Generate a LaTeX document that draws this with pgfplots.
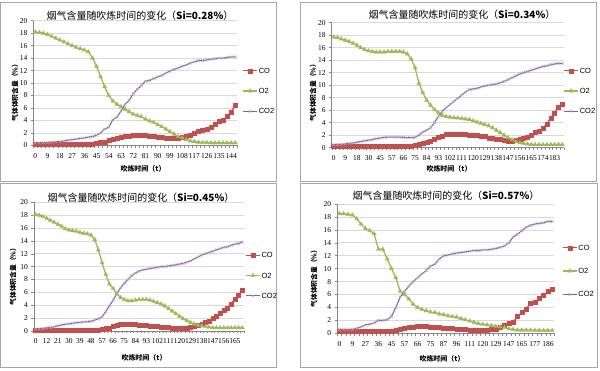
\documentclass[border=0pt]{standalone}
\usepackage{pgfplots}
\pgfplotsset{compat=1.18}
\usepackage{pgfplotstable}
\usepackage{fontspec}
\setmainfont{Liberation Serif}
\newfontfamily\cjk{Noto Sans CJK SC}
\newfontfamily\sansf{Liberation Sans}
\definecolor{coC}{HTML}{C0504D}
\definecolor{o2C}{HTML}{9BBB59}
\definecolor{co2C}{HTML}{8064A2}
\definecolor{co2M}{HTML}{B3A2C7}
\definecolor{gridC}{HTML}{D9D9D9}
\definecolor{axC}{HTML}{868686}
\definecolor{frameC}{HTML}{A6A6A6}

\pgfplotstableread{
i CO O2 CO2
0 0.2 18.2 0.4
1 0.2 18.1 0.4
2 0.2 18.0 0.4
3 0.2 17.8 0.45
4 0.2 17.5 0.5
5 0.2 17.2 0.55
6 0.2 16.9 0.6
7 0.2 16.6 0.7
8 0.2 16.3 0.8
9 0.2 16.0 0.9
10 0.2 15.7 1.0
11 0.2 15.5 1.1
12 0.2 15.3 1.2
13 0.2 15.0 1.3
14 0.2 14.0 1.4
15 0.3 12.7 1.6
16 0.45 11.0 2.0
17 0.55 9.4 2.6
18 0.75 8.0 2.9
19 0.95 7.1 4.1
20 1.1 6.6 4.5
21 1.25 6.2 5.5
22 1.4 5.8 6.6
23 1.5 5.4 7.2
24 1.55 5.0 8.3
25 1.6 4.8 9.0
26 1.6 4.6 9.6
27 1.55 4.2 10.3
28 1.45 3.9 10.4
29 1.4 3.7 10.7
30 1.3 3.3 11.0
31 1.25 3.0 11.2
32 1.2 2.6 11.6
33 1.15 2.2 11.9
34 1.15 1.8 12.2
35 1.2 1.4 12.4
36 1.3 1.2 12.7
37 1.4 0.9 12.9
38 1.6 0.7 13.2
39 1.9 0.6 13.4
40 2.2 0.5 13.6
41 2.4 0.45 13.6
42 2.6 0.45 13.7
43 2.9 0.4 13.8
44 3.4 0.4 13.9
45 3.8 0.4 14.0
46 4.0 0.4 14.0
47 4.7 0.4 14.1
48 5.4 0.4 14.2
49 6.4 0.4 14.2
}\tabA

\pgfplotstableread{
i CO O2 CO2
0 0.3 17.7 0.5
1 0.3 17.6 0.5
2 0.3 17.4 0.55
3 0.3 17.2 0.6
4 0.3 17.0 0.7
5 0.3 16.7 0.75
6 0.3 16.4 0.85
7 0.3 16.0 1.0
8 0.3 15.7 1.1
9 0.3 15.5 1.2
10 0.3 15.4 1.3
11 0.3 15.3 1.45
12 0.3 15.3 1.55
13 0.3 15.3 1.65
14 0.3 15.4 1.7
15 0.3 15.4 1.7
16 0.3 15.4 1.7
17 0.3 15.4 1.7
18 0.3 15.3 1.65
19 0.3 15.0 1.6
20 0.3 14.2 1.6
21 0.35 12.8 1.65
22 0.5 10.3 2.0
23 0.8 8.8 2.5
24 0.9 7.6 2.8
25 1.1 6.8 3.2
26 1.4 6.1 4.0
27 1.7 5.6 5.0
28 1.9 5.2 5.8
29 2.1 5.0 6.4
30 2.2 4.9 6.9
31 2.2 4.8 7.4
32 2.2 4.75 7.9
33 2.1 4.7 8.4
34 2.1 4.6 8.9
35 2.0 4.5 9.3
36 2.0 4.3 9.4
37 2.0 4.1 9.5
38 1.9 3.9 9.7
39 1.8 3.7 9.9
40 1.6 3.5 10.0
41 1.5 3.2 10.1
42 1.4 2.8 10.2
43 1.3 2.4 10.4
44 1.2 2.0 10.6
45 1.1 1.6 10.9
46 1.1 1.3 11.2
47 1.2 1.0 11.5
48 1.3 0.8 11.8
49 1.6 0.7 12.0
50 1.7 0.6 12.2
51 2.0 0.5 12.4
52 2.5 0.5 12.6
53 2.7 0.5 12.8
54 3.2 0.5 13.0
55 3.8 0.5 13.1
56 4.8 0.5 13.3
57 5.6 0.5 13.4
58 6.5 0.5 13.5
59 7.0 0.5 13.5
}\tabB

\pgfplotstableread{
i CO O2 CO2
0 0.2 18.1 0.3
1 0.2 18.0 0.35
2 0.2 17.8 0.4
3 0.2 17.5 0.5
4 0.2 17.2 0.55
5 0.2 16.9 0.65
6 0.2 16.6 0.8
7 0.2 16.3 0.95
8 0.2 15.9 1.05
9 0.2 15.7 1.1
10 0.2 15.6 1.2
11 0.2 15.5 1.3
12 0.2 15.3 1.35
13 0.2 15.2 1.4
14 0.2 15.1 1.45
15 0.2 14.9 1.5
16 0.2 14.2 1.7
17 0.2 12.6 1.9
18 0.3 10.6 2.2
19 0.4 8.8 3.0
20 0.5 7.3 3.9
21 0.7 6.6 4.8
22 0.85 5.8 5.8
23 1.0 5.2 6.7
24 1.05 4.9 7.4
25 1.1 4.7 8.0
26 1.05 4.7 8.6
27 1.0 4.8 9.0
28 0.95 4.9 9.3
29 0.9 4.9 9.5
30 0.85 4.9 9.6
31 0.8 4.8 9.7
32 0.75 4.6 9.8
33 0.7 4.4 9.9
34 0.65 4.2 10.0
35 0.6 3.9 10.0
36 0.55 3.5 10.1
37 0.5 3.1 10.2
38 0.5 2.7 10.3
39 0.5 2.3 10.4
40 0.5 1.9 10.5
41 0.5 1.6 10.7
42 0.6 1.3 10.9
43 0.7 1.1 11.2
44 0.9 0.9 11.5
45 1.1 0.8 11.8
46 1.4 0.7 12.0
47 1.6 0.6 12.2
48 2.0 0.5 12.4
49 2.3 0.5 12.6
50 2.7 0.5 12.8
51 3.3 0.5 13.0
52 3.6 0.5 13.1
53 4.2 0.5 13.3
54 5.0 0.5 13.5
55 5.6 0.5 13.6
56 6.3 0.5 13.8
}\tabC

\pgfplotstableread{
i CO O2 CO2
0 0.3 18.5 0.6
1 0.3 18.5 0.6
2 0.3 18.4 0.6
3 0.3 18.3 0.6
4 0.3 17.7 0.75
5 0.3 16.9 1.0
6 0.3 16.2 1.3
7 0.3 15.9 1.4
8 0.3 15.4 1.6
9 0.3 13.0 2.0
10 0.3 13.0 2.0
11 0.35 11.5 2.1
12 0.4 10.0 2.6
13 0.5 8.6 4.0
14 0.65 6.5 5.6
15 0.8 6.0 6.5
16 0.9 5.3 7.3
17 1.0 4.5 8.0
18 1.1 4.0 8.6
19 1.1 3.7 9.2
20 1.05 3.5 9.7
21 1.0 3.3 10.4
22 0.95 3.2 10.7
23 0.9 3.0 11.5
24 0.85 2.9 12.0
25 0.8 2.7 12.1
26 0.75 2.6 12.3
27 0.7 2.5 12.4
28 0.65 2.3 12.5
29 0.6 2.1 12.6
30 0.55 1.9 12.7
31 0.5 1.7 12.8
32 0.5 1.5 12.8
33 0.5 1.4 12.9
34 0.55 1.3 12.9
35 0.6 1.2 13.0
36 0.7 1.1 13.1
37 0.9 1.0 13.3
38 1.2 0.9 13.5
39 1.6 0.7 14.0
40 1.8 0.6 14.9
41 2.6 0.5 15.3
42 3.2 0.5 15.9
43 3.8 0.5 16.4
44 4.6 0.5 16.7
45 4.8 0.45 16.9
46 5.4 0.45 17.0
47 5.9 0.45 17.1
48 6.5 0.45 17.3
49 6.8 0.45 17.3
}\tabD

\pgfplotsset{
  panel/.style={
    scale only axis,
    ymin=0, ymax=20, ytick={0,2,...,20},
    ymajorgrids, grid style={draw=gridC, line width=0.6bp},
    axis x line*=bottom, axis y line*=left,
    axis line style={draw=axC, line width=0.6bp, -},
    tick align=outside,
    major tick length=2.5bp, minor tick length=2.5bp,
    ytick style={draw=axC, line width=0.5bp},
    xtick style={draw=none},
    minor x tick style={draw=axC, line width=0.4bp},
    ticklabel style={font=\fontsize{7.5}{8}\selectfont},
    xticklabel style={yshift=-2bp},
    /pgf/number format/assume math mode=true,
    legend cell align=left,
    legend style={draw=none, fill=none, anchor=west, inner sep=0pt,
      font=\sansf\fontsize{7.5}{8}\selectfont, row sep=13bp,
      nodes={inner sep=1pt, text height=5.3bp, text depth=0pt}},
    legend image code/.code={\draw[mark repeat=2,mark phase=2,##1] plot coordinates {(0bp,0bp) (7bp,0bp) (14bp,0bp)};},
  },
  coS/.style={color=coC, line width=1.3bp, mark=square*, mark size=2bp, mark options={fill=coC, draw=coC, line width=0.3bp}},
  o2S/.style={color=o2C, line width=1.3bp, mark=triangle*, mark size=2.4bp, mark options={fill=o2C, draw=o2C, line width=0.3bp}},
  co2S/.style={color=co2C, line width=1.1bp, mark=x, mark size=1.9bp, mark options={draw=co2M, line width=0.5bp}},
}

\begin{document}
\begin{tikzpicture}
\useasboundingbox (0bp,0bp) rectangle (600bp,371bp);
% panel frames
\draw[frameC, line width=0.8bp] (0.5bp,190bp) rectangle (276bp,368.5bp);
\draw[frameC, line width=0.8bp] (300.5bp,190bp) rectangle (596.5bp,368.5bp);
\draw[frameC, line width=0.8bp] (0.5bp,4bp) rectangle (276bp,188bp);
\draw[frameC, line width=0.8bp] (300.5bp,4bp) rectangle (597.5bp,188bp);

% Panel 1
\begin{axis}[panel, at={(33.3bp,225.7bp)}, anchor=south west, width=204bp, height=124.6bp,
  xmin=-0.5, xmax=49.5, xtick={0,3,...,48},
  xticklabels={0,9,18,27,36,45,54,63,72,81,90,99,108,117,126,135,144},
  minor xtick={-0.5,0.5,...,49.5},
  legend style={at={(1,0.436)}, xshift=5bp}]
\addplot[coS] table[x=i,y=CO]{\tabA};
\addplot[o2S] table[x=i,y=O2]{\tabA};
\addplot[co2S] table[x=i,y=CO2]{\tabA};
\legend{CO,O2,CO2}
\end{axis}

% Panel 2
\begin{axis}[panel, at={(331.7bp,223.3bp)}, anchor=south west, width=232.6bp, height=125bp,
  xmin=-0.5, xmax=59.5, xtick={0,3,...,57},
  xticklabels={0,9,18,30,45,57,66,75,84,93,102,111,120,129,138,147,156,165,174,183},
  minor xtick={-0.5,0.5,...,59.5},
  legend style={at={(1,0.454)}, xshift=-1bp}]
\addplot[coS] table[x=i,y=CO]{\tabB};
\addplot[o2S] table[x=i,y=O2]{\tabB};
\addplot[co2S] table[x=i,y=CO2]{\tabB};
\legend{CO,O2,CO2}
\end{axis}

% Panel 3
\begin{axis}[panel, at={(33.8bp,40bp)}, anchor=south west, width=210.3bp, height=128.7bp,
  xmin=-0.5, xmax=56.5, xtick={0,3,...,54},
  xticklabels={0,12,21,30,39,48,57,66,75,84,93,102,111,120,129,138,147,156,165},
  minor xtick={-0.5,0.5,...,56.5},
  legend style={at={(1,0.431)}, xshift=1bp}]
\addplot[coS] table[x=i,y=CO]{\tabC};
\addplot[o2S] table[x=i,y=O2]{\tabC};
\addplot[co2S] table[x=i,y=CO2]{\tabC};
\legend{CO,O2,CO2}
\end{axis}

% Panel 4
\begin{axis}[panel, at={(337.2bp,37.7bp)}, anchor=south west, width=217.2bp, height=129.3bp,
  xmin=-0.5, xmax=49.5, xtick={0,3,...,48},
  xticklabels={0,9,27,36,45,57,66,75,87,96,111,120,129,147,165,177,186},
  minor xtick={-0.5,0.5,...,49.5},
  legend style={at={(1,0.482)}, xshift=7.5bp, row sep=16bp}]
\addplot[coS] table[x=i,y=CO]{\tabD};
\addplot[o2S] table[x=i,y=O2]{\tabD};
\addplot[co2S] table[x=i,y=CO2]{\tabD};
\legend{CO,O2,CO2}
\end{axis}

% titles
\node[font=\cjk\fontsize{10}{12}\selectfont] at (140bp,355.3bp) {烟气含量随吹炼时间的变化（\textbf{Si=0.28\%}）};
\node[font=\cjk\fontsize{10}{12}\selectfont] at (462bp,356bp) {烟气含量随吹炼时间的变化（\textbf{Si=0.34\%}）};
\node[font=\cjk\fontsize{10}{12}\selectfont] at (141bp,173.7bp) {烟气含量随吹炼时间的变化（\textbf{Si=0.45\%}）};
\node[font=\cjk\fontsize{10}{12}\selectfont] at (446bp,175bp) {烟气含量随吹炼时间的变化（\textbf{Si=0.57\%}）};
% y labels
\node[font=\cjk\bfseries\fontsize{6.8}{7}\selectfont, rotate=90] at (15bp,280bp) {气体体积含量（\%）};
\node[font=\cjk\bfseries\fontsize{6.8}{7}\selectfont, rotate=90] at (313bp,280bp) {气体体积含量（\%）};
\node[font=\cjk\bfseries\fontsize{6.8}{7}\selectfont, rotate=90] at (13bp,96bp) {气体体积含量（\%）};
\node[font=\cjk\bfseries\fontsize{6.8}{7}\selectfont, rotate=90] at (314bp,94bp) {气体体积含量（\%）};
% x labels
\node[font=\cjk\bfseries\fontsize{7}{8}\selectfont] at (143bp,202bp) {吹炼时间（t）};
\node[font=\cjk\bfseries\fontsize{7}{8}\selectfont] at (449bp,202bp) {吹炼时间（t）};
\node[font=\cjk\bfseries\fontsize{7}{8}\selectfont] at (144bp,13.3bp) {吹炼时间（t）};
\node[font=\cjk\bfseries\fontsize{7}{8}\selectfont] at (442bp,12bp) {吹炼时间（t）};
\end{tikzpicture}
\end{document}
